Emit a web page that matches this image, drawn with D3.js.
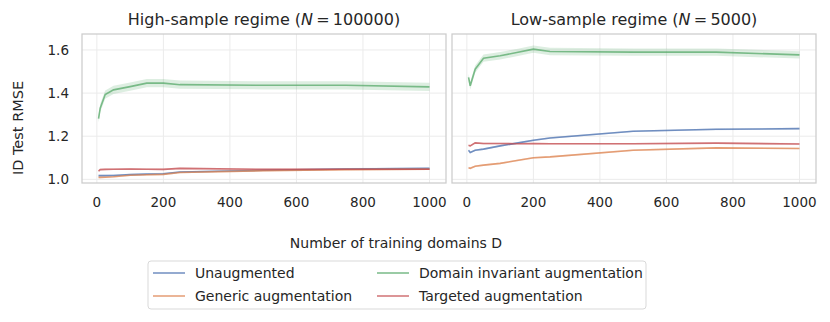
<!DOCTYPE html>
<html lang="en">
<head>
    <meta charset="UTF-8">
    <title>ID Test RMSE | D3</title>
    <style>
        body { margin: 0; background: #fff; }
        text { font-family: "DejaVu Sans", sans-serif; fill: #262626; }
    </style>
</head>
<body>
    <div id="container"></div>

    <script type="text/javascript" src="https://d3js.org/d3.v7.min.js"></script>
    <script type="text/javascript">
        // number of training domains D
        var domains = [5, 10, 25, 50, 100, 150, 200, 250, 500, 750, 1000];

        var seriesNames = ["Unaugmented", "Generic augmentation",
                           "Domain invariant augmentation", "Targeted augmentation"];
        var colors = ["#4c72b0", "#dd8452", "#55a868", "#c44e52"];

        // high-sample regime (N = 100000)
        var highUnaug    = [1.017, 1.017, 1.017, 1.018, 1.022, 1.024, 1.026, 1.034, 1.042, 1.048, 1.051];
        var highGeneric  = [1.009, 1.009, 1.010, 1.012, 1.019, 1.021, 1.023, 1.032, 1.040, 1.045, 1.047];
        var highInvar    = [1.281, 1.330, 1.393, 1.415, 1.430, 1.446, 1.446, 1.439, 1.436, 1.436, 1.429];
        var highTargeted = [1.038, 1.045, 1.046, 1.047, 1.048, 1.047, 1.046, 1.051, 1.046, 1.047, 1.047];
        var highErr      = [0.004, 0.004, 0.019, 0.004];

        // low-sample regime (N = 5000)
        var lowUnaug    = [1.135, 1.124, 1.135, 1.140, 1.155, 1.168, 1.181, 1.192, 1.223, 1.232, 1.235];
        var lowGeneric  = [1.054, 1.051, 1.061, 1.066, 1.074, 1.087, 1.100, 1.104, 1.135, 1.146, 1.143];
        var lowInvar    = [1.473, 1.434, 1.511, 1.562, 1.573, 1.588, 1.604, 1.593, 1.590, 1.590, 1.577];
        var lowTargeted = [1.158, 1.155, 1.169, 1.166, 1.166, 1.165, 1.166, 1.165, 1.165, 1.168, 1.164];
        var lowErr      = [0.004, 0.004, 0.017, 0.004];

        var xTicks = [0, 200, 400, 600, 800, 1000];
        var yTicks = [1.0, 1.2, 1.4, 1.6];

        var panels = [
            { title: "High-sample regime (", n: "100000", left: 82,
              series: [highUnaug, highGeneric, highInvar, highTargeted], err: highErr },
            { title: "Low-sample regime (", n: "5000", left: 452,
              series: [lowUnaug, lowGeneric, lowInvar, lowTargeted], err: lowErr }
        ];

        var W = 830, H = 322;
        var plotTop = 34, plotBottom = 183, pw = 364;

        var svg = d3.select("#container").append("svg")
            .attr("width", W)
            .attr("height", H);

        var y = d3.scaleLinear().domain([0.983, 1.674]).range([plotBottom, plotTop]);

        panels.forEach(function(p) {
            var x = d3.scaleLinear().domain([-44.75, 1049.75]).range([p.left, p.left + pw]);
            var g = svg.append("g");

            // grid
            g.selectAll(".vg").data(xTicks).enter().append("line")
                .attr("x1", function(d) { return x(d); })
                .attr("x2", function(d) { return x(d); })
                .attr("y1", plotTop).attr("y2", plotBottom)
                .attr("stroke", "#ebebeb").attr("stroke-width", 1);
            g.selectAll(".hg").data(yTicks).enter().append("line")
                .attr("x1", p.left).attr("x2", p.left + pw)
                .attr("y1", function(d) { return y(d); })
                .attr("y2", function(d) { return y(d); })
                .attr("stroke", "#ebebeb").attr("stroke-width", 1);

            // bands + lines
            p.series.forEach(function(vals, i) {
                var pts = domains.map(function(d, k) { return { x: d, y: vals[k] }; });
                var e = p.err[i];
                var area = d3.area()
                    .x(function(d) { return x(d.x); })
                    .y0(function(d) { return y(d.y - e); })
                    .y1(function(d) { return y(d.y + e); });
                g.append("path").datum(pts)
                    .attr("d", area)
                    .attr("fill", colors[i])
                    .attr("fill-opacity", 0.2);
            });
            p.series.forEach(function(vals, i) {
                var pts = domains.map(function(d, k) { return { x: d, y: vals[k] }; });
                var line = d3.line()
                    .x(function(d) { return x(d.x); })
                    .y(function(d) { return y(d.y); });
                g.append("path").datum(pts)
                    .attr("d", line)
                    .attr("fill", "none")
                    .attr("stroke", colors[i])
                    .attr("stroke-opacity", 0.75)
                    .attr("stroke-width", 1.6);
            });

            // frame
            g.append("rect")
                .attr("x", p.left).attr("y", plotTop)
                .attr("width", pw).attr("height", plotBottom - plotTop)
                .attr("fill", "none")
                .attr("stroke", "#cccccc").attr("stroke-width", 1.25);

            // x tick labels
            g.selectAll(".xt").data(xTicks).enter().append("text")
                .attr("x", function(d) { return x(d); })
                .attr("y", 207)
                .attr("text-anchor", "middle")
                .attr("font-size", 13.5)
                .text(function(d) { return d; });

            // title
            var t = g.append("text")
                .attr("x", p.left + pw / 2)
                .attr("y", 25)
                .attr("text-anchor", "middle")
                .attr("font-size", 16);
            t.append("tspan").text(p.title);
            t.append("tspan").attr("font-style", "italic").text("N");
            t.append("tspan").text("\u2009=\u2009" + p.n + ")");
        });

        // y tick labels (shared, left panel only)
        svg.selectAll(".yt").data(yTicks).enter().append("text")
            .attr("x", 69)
            .attr("y", function(d) { return y(d) + 5; })
            .attr("text-anchor", "end")
            .attr("font-size", 13.5)
            .text(function(d) { return d.toFixed(1); });

        svg.append("text")
            .attr("transform", "translate(23,128) rotate(-90)")
            .attr("text-anchor", "middle")
            .attr("font-size", 14.5)
            .text("ID Test RMSE");

        svg.append("text")
            .attr("x", 396).attr("y", 248)
            .attr("text-anchor", "middle")
            .attr("font-size", 14)
            .text("Number of training domains D");

        // legend
        var legend = svg.append("g");
        legend.append("rect")
            .attr("x", 148).attr("y", 261)
            .attr("width", 498).attr("height", 48)
            .attr("rx", 3)
            .attr("fill", "#fff")
            .attr("stroke", "#d9d9d9").attr("stroke-width", 1);
        var colX = [153, 377];
        var rowY = [273, 296];
        seriesNames.forEach(function(name, i) {
            var cx = colX[Math.floor(i / 2)], cy = rowY[i % 2];
            legend.append("line")
                .attr("x1", cx).attr("x2", cx + 32)
                .attr("y1", cy).attr("y2", cy)
                .attr("stroke", colors[i]).attr("stroke-opacity", 0.75)
                .attr("stroke-width", 1.6);
            legend.append("text")
                .attr("x", cx + 42).attr("y", cy + 5)
                .attr("font-size", 14)
                .text(name);
        });
    </script>
</body>
</html>
